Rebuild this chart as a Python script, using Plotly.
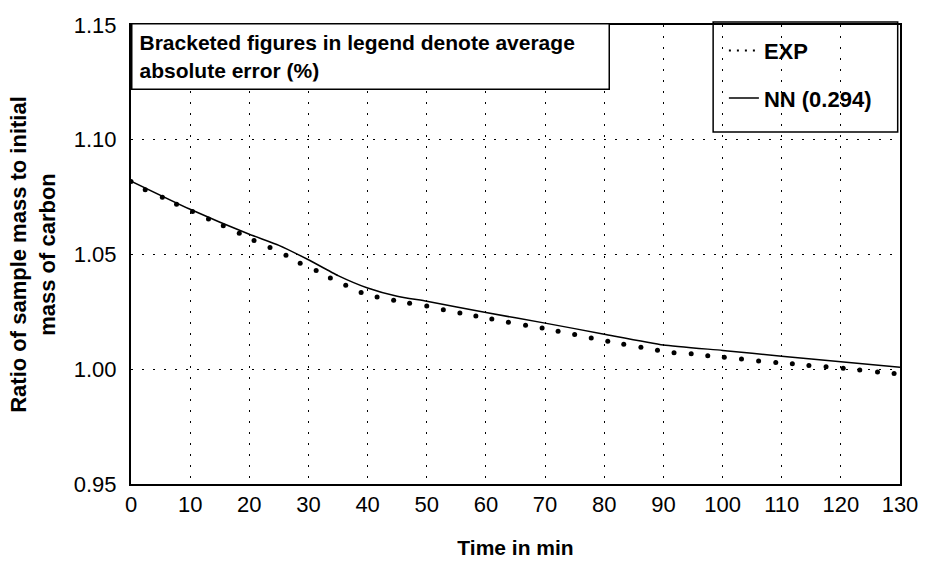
import plotly.graph_objects as go

# Experimental data (dots)
exp_t = [0, 2.4, 5.3, 7.7, 10.4, 13.1, 15.6, 18.3, 20.8, 23.5, 26.2, 28.6, 31.3, 33.7,
         36.3, 38.9, 41.6, 44.4, 47.1, 50.0, 52.8, 55.6, 58.3, 61.0, 63.8, 66.7, 69.5,
         72.2, 75.0, 77.8, 80.6, 83.3, 86.2, 89.0, 91.8, 94.7, 97.5, 100.3, 103.2,
         106.1, 109.0, 111.8, 114.6, 117.5, 120.4, 123.2, 126.2, 129.0]
exp_v = [1.0818, 1.0782, 1.0750, 1.0719, 1.0687, 1.0655, 1.0625, 1.0593, 1.0561, 1.0530,
         1.0497, 1.0462, 1.0430, 1.0398, 1.0366, 1.0334, 1.0315, 1.0301, 1.0288, 1.0276,
         1.0259, 1.0245, 1.0232, 1.0219, 1.0205, 1.0192, 1.0180, 1.0166, 1.0151, 1.0136,
         1.0122, 1.0109, 1.0096, 1.0083, 1.0072, 1.0067, 1.0059, 1.0052, 1.0045, 1.0036,
         1.0029, 1.0024, 1.0016, 1.0011, 1.0004, 0.9997, 0.9988, 0.9981]

# Neural network prediction (line)
nn_t = [0, 10, 20, 25, 30, 35, 40, 45, 50, 60, 70, 80, 90, 100, 110, 120, 130]
nn_v = [1.0820, 1.0697, 1.0588, 1.0540, 1.0477, 1.0408, 1.0354, 1.0318, 1.0296, 1.0247,
        1.0201, 1.0153, 1.0106, 1.0082, 1.0057, 1.0033, 1.0009]

x_ticks = list(range(0, 131, 10))
y_ticks = [0.95, 1.00, 1.05, 1.10, 1.15]
y_tick_text = ["0.95", "1.00", "1.05", "1.10", "1.15"]

FONT = "Liberation Sans, Arial, Helvetica, sans-serif"

fig = go.Figure()
fig.add_trace(go.Scatter(x=exp_t, y=exp_v, mode="markers", showlegend=False,
                         marker=dict(color="black", size=5), name="EXP"))
fig.add_trace(go.Scatter(x=[None], y=[None], mode="lines", name="EXP",
                         legendgroup="a",
                         line=dict(color="black", width=2, dash="2px,6px")))
fig.add_trace(go.Scatter(x=nn_t, y=nn_v, mode="lines", name="NN (0.294)",
                         legendgroup="b",
                         line=dict(color="black", width=1.5, shape="spline", smoothing=0.5)))

grid_dash = "2px,9px"
fig.update_xaxes(range=[0, 130], tickvals=x_ticks, showgrid=True, gridcolor="black",
                 griddash=grid_dash, gridwidth=1, showline=True, linecolor="black",
                 linewidth=2, mirror=True, zeroline=False, ticks="", ticklabelstandoff=0,
                 automargin=False,
                 tickfont=dict(size=22, color="black", family=FONT),
                 title=dict(text="<b>Time in min</b>", standoff=24,
                            font=dict(size=21, color="black", family=FONT)))
fig.update_yaxes(range=[0.95, 1.15], tickvals=y_ticks, ticktext=y_tick_text,
                 showgrid=True, gridcolor="black", griddash=grid_dash, gridwidth=1,
                 showline=True, linecolor="black", linewidth=2, mirror=True,
                 zeroline=False, ticks="", ticklabelstandoff=8, automargin=False,
                 tickfont=dict(size=22, color="black", family=FONT),
                 title=dict(text="<b>Ratio of sample mass to initial<br>mass of carbon</b>",
                            standoff=12, font=dict(size=22, color="black", family=FONT)))

fig.add_shape(type="rect", xref="paper", yref="paper", x0=0.757, x1=0.997,
              y0=0.767, y1=1.0065, line=dict(color="black", width=1.5),
              fillcolor="white", layer="below")

fig.add_annotation(xref="paper", yref="paper", x=0.0, y=1.004, xanchor="left",
                   yanchor="top", align="left", showarrow=False,
                   text="<b>Bracketed figures in legend denote average<br>absolute error (%)</b>",
                   font=dict(size=21, color="black", family=FONT),
                   bordercolor="black", borderwidth=1.5, bgcolor="white",
                   width=462, height=50, borderpad=7)

fig.update_layout(
    width=925, height=561,
    margin=dict(l=131, r=25, t=25, b=77),
    paper_bgcolor="white", plot_bgcolor="white",
    font=dict(family=FONT, color="black"),
    legend=dict(x=0.771, y=0.99, xanchor="left", yanchor="top",
                bgcolor="rgba(0,0,0,0)", borderwidth=0,
                font=dict(size=22, color="black", family=FONT, weight="bold"),
                traceorder="grouped", tracegroupgap=16),
)

fig.write_html("out.html")
